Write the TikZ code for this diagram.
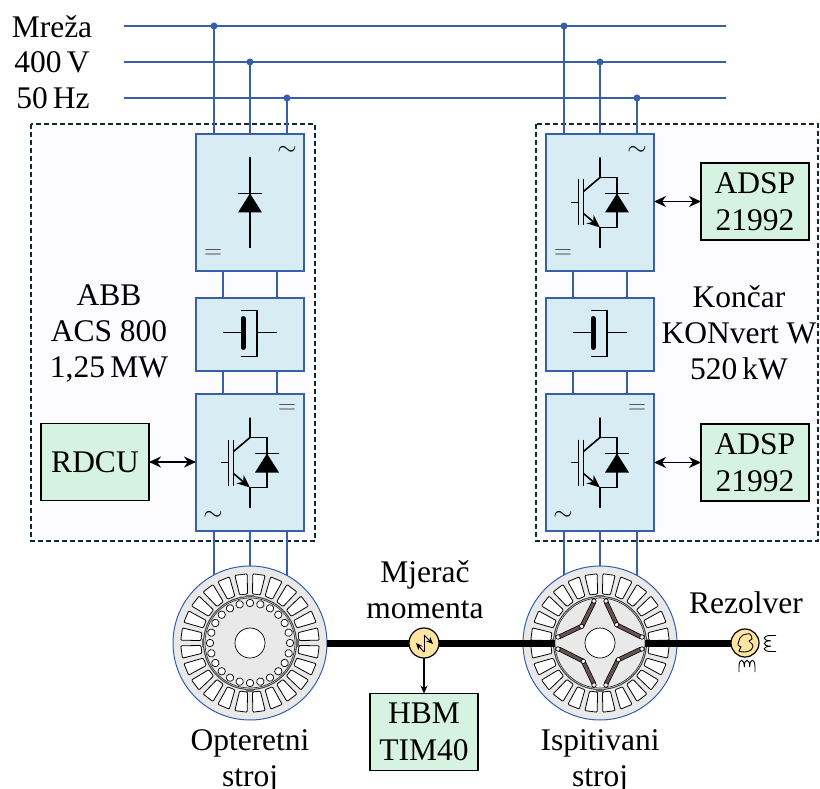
\documentclass[tikz,border=0pt]{standalone}
\usepackage{fontspec}
\setmainfont{Liberation Serif}
\usetikzlibrary{arrows.meta, calc}
\definecolor{mywire}{RGB}{55,95,170}
\definecolor{myblock}{RGB}{215,236,243}
\definecolor{mygreen}{RGB}{214,242,225}
\definecolor{mysteel}{RGB}{233,233,233}
\definecolor{myyellow}{RGB}{255,230,160}
\definecolor{mymagnet}{RGB}{105,80,80}
\definecolor{mydash}{RGB}{20,40,50}
\tikzset{
  lab/.style={font=\fontsize{31.5}{36}\selectfont, align=center, inner sep=0pt},
  acsym/.style={font=\fontsize{27}{27}\selectfont, inner sep=0pt, text=black},
  dcsym/.style={font=\fontsize{30}{30}\selectfont, inner sep=0pt, text=black!75},
  wire/.style={line width=1.7pt, color=mywire},
  busdot/.style={circle, fill=mywire, minimum size=7, inner sep=0pt, outer sep=0pt},
  block/.style={rectangle, draw=mywire, fill=myblock, line width=1.5pt,
    minimum width=108, inner sep=0pt, outer sep=0pt},
  ctrl/.style={rectangle, draw=black, fill=mygreen, line width=1.2pt,
    minimum width=108, minimum height=77, inner sep=0pt, outer sep=0pt,
    font=\fontsize{31.5}{36.5}\selectfont, align=center},
  dashbox/.style={draw=mydash, line width=1.2pt, dash pattern=on 5pt off 3pt, fill=blue!1},
  dblarrow/.style={{Stealth[length=12pt,width=11pt]}-{Stealth[length=12pt,width=11pt]}, line width=1.7pt},
  sym/.style={line width=1.6pt, color=black},
  shaft/.style={line width=7pt, color=black},
  steel/.style={circle, draw=mywire, fill=mysteel, line width=1pt, minimum size=154, inner sep=0pt, outer sep=0pt},
  rotor/.style={circle, draw=black!80, fill=mysteel, line width=0.7pt, minimum size=90, inner sep=0pt, outer sep=0pt},
  hub/.style={circle, draw=black, fill=white, line width=0.7pt, minimum size=30, inner sep=0pt, outer sep=0pt},
  yelnode/.style={circle, draw=black, fill=myyellow, line width=1.2pt, inner sep=0pt, outer sep=0pt},
  diodesym/.pic={
    \draw[sym] (17,-9) ++(-12,0) -- ++(24,0);
    \fill (17,-9) -- (29,10) -- (5,10) -- cycle;
  },
  igbt/.pic={
    \draw[sym] (-29,0) -- (-21.5,0) (-21.5,-23) -- (-21.5,23) (-16.5,-23) -- (-16.5,23);
    \draw[sym] (0,-45) -- (0,-25) -- (-16.5,-11);
    \draw[sym, -{Stealth[length=13pt,width=11pt]}] (-16.5,11) -- (0,25);
    \draw[sym] (0,45) -- (0,25) -- (17,25) -- (17,-25) -- (0,-25);
    \pic {diodesym};
  },
  coil/.pic={
    \draw[line width=0.9pt] (-8,5) -- (-8,0) .. controls (-8,-9) and (-2.7,-9) .. (-2.7,0)
      .. controls (-2.7,-9) and (2.7,-9) .. (2.7,0)
      .. controls (2.7,-9) and (8,-9) .. (8,0) -- (8,5);
  },
  stator/.pic={
    \draw[line width=1pt, color=black!75] (0,0) circle (46.5);
    \foreach \a in {7.5,22.5,...,352.5}{
      \draw[line width=0.8pt, fill=white, rounded corners=1pt, rotate=\a]
        (49,-4) -- (69,-6.2) -- (69,6.2) -- (49,4) -- cycle;
    }
    \foreach \a in {0,90,180,270}{
      \fill[black!60, rotate=\a] (46,-4) rectangle (48.5,4);
    }
  }
}

\begin{document}
\begin{tikzpicture}[x=1pt, y=-1pt]
    \useasboundingbox (0,0) rectangle (820,789);

    % Drive enclosures
    \draw[dashbox] (31,124) rectangle (315,541);
    \draw[dashbox] (536,124) rectangle (818,541);

    % Supply
    \coordinate (busa) at (124,26);
    \coordinate (busb) at (124,62);
    \coordinate (busc) at (124,98);
    \coordinate (busaend) at (726,26);
    \coordinate (busbend) at (726,62);
    \coordinate (buscend) at (726,98);
    \draw[wire] (busa) -- (busaend);
    \draw[wire] (busb) -- (busbend);
    \draw[wire] (busc) -- (buscend);
    \node[lab] (mreza) at (52,27) {Mreža};
    \node[lab] (napon) at (52,62) {400\,V};
    \node[lab] (frekv) at (53,98) {50\,Hz};
    \node[busdot] (la) at (214,26) {};
    \node[busdot] (lb) at (250,62) {};
    \node[busdot] (lc) at (287,98) {};
    \node[busdot] (ra) at (564,26) {};
    \node[busdot] (rb) at (600,62) {};
    \node[busdot] (rc) at (637,98) {};

    % Left drive
    \node[block, minimum height=137] (lrect) at (250,202.5) {};
    \node[block, minimum height=73] (llink) at (250,334.5) {};
    \node[block, minimum height=137] (linv) at (250,462.5) {};
    % Right drive
    \node[block, minimum height=137] (rrect) at (600,202.5) {};
    \node[block, minimum height=73] (rlink) at (600,334.5) {};
    \node[block, minimum height=137] (rinv) at (600,462.5) {};

    % Bus to rectifier
    \draw[wire] (la) -- (la |- lrect.north);
    \draw[wire] (lb) -- (lb |- lrect.north);
    \draw[wire] (lc) -- (lc |- lrect.north);
    \draw[wire] (ra) -- (ra |- rrect.north);
    \draw[wire] (rb) -- (rb |- rrect.north);
    \draw[wire] (rc) -- (rc |- rrect.north);

    % DC link
    \draw[wire] ([xshift=-27]lrect.south) -- ([xshift=-27]llink.north);
    \draw[wire] ([xshift=27]lrect.south) -- ([xshift=27]llink.north);
    \draw[wire] ([xshift=-27]llink.south) -- ([xshift=-27]linv.north);
    \draw[wire] ([xshift=27]llink.south) -- ([xshift=27]linv.north);
    \draw[wire] ([xshift=-27]rrect.south) -- ([xshift=-27]rlink.north);
    \draw[wire] ([xshift=27]rrect.south) -- ([xshift=27]rlink.north);
    \draw[wire] ([xshift=-27]rlink.south) -- ([xshift=-27]rinv.north);
    \draw[wire] ([xshift=27]rlink.south) -- ([xshift=27]rinv.north);

    % Inverter to machine
    \coordinate (opos) at (250,643);
    \coordinate (ipos) at (600,643);
    \draw[wire] (la |- linv.south) -- (la |- opos);
    \draw[wire] (lb |- linv.south) -- (lb |- opos);
    \draw[wire] (lc |- linv.south) -- (lc |- opos);
    \draw[wire] (ra |- rinv.south) -- (ra |- ipos);
    \draw[wire] (rb |- rinv.south) -- (rb |- ipos);
    \draw[wire] (rc |- rinv.south) -- (rc |- ipos);

    % Block symbols
    \draw[sym] ($(lrect.center)+(0,-45)$) -- ($(lrect.center)+(0,45)$);
    \pic at ($(lrect.center)+(-17,0)$) {diodesym};
    \pic at (rrect.center) {igbt};
    \pic at (linv.center) {igbt};
    \pic at (rinv.center) {igbt};
    \foreach \lnk in {llink,rlink}{
      \draw[sym] ($(\lnk.center)+(-27,-2)$) -- ($(\lnk.center)+(-7,-2)$);
      \draw[line width=5pt, line cap=round] ($(\lnk.center)+(-7,-16)$) -- ($(\lnk.center)+(-7,13)$);
      \draw[sym] ($(\lnk.center)+(-9,-24)$) -- ($(\lnk.center)+(7,-24)$) -- ($(\lnk.center)+(7,22)$) -- ($(\lnk.center)+(-9,22)$);
      \draw[sym] ($(\lnk.center)+(7,-2)$) -- ($(\lnk.center)+(27,-2)$);
    }

    % AC and DC marks
    \node[acsym] (lacup) at ($(lrect.center)+(37,-52)$) {$\sim$};
    \node[dcsym] (ldcup) at ($(lrect.center)+(-37,52)$) {$=$};
    \node[acsym] (racup) at ($(rrect.center)+(37,-52)$) {$\sim$};
    \node[dcsym] (rdcup) at ($(rrect.center)+(-37,52)$) {$=$};
    \node[dcsym] (ldcdn) at ($(linv.center)+(37,-53)$) {$=$};
    \node[acsym] (lacdn) at ($(linv.center)+(-37,53)$) {$\sim$};
    \node[dcsym] (rdcdn) at ($(rinv.center)+(37,-53)$) {$=$};
    \node[acsym] (racdn) at ($(rinv.center)+(-37,53)$) {$\sim$};

    % Controllers
    \node[ctrl] (rdcu) at (95,462) {RDCU};
    \node[ctrl] (adspa) at (755,201.5) {ADSP\\21992};
    \node[ctrl] (adspb) at (755,462.5) {ADSP\\21992};
    \node[ctrl] (hbm) at (424,732) {HBM\\TIM40};
    \draw[dblarrow] (rdcu.east) -- (rdcu.east -| linv.west);
    \draw[dblarrow] (adspa.west) -- (adspa.west -| rrect.east);
    \draw[dblarrow] (adspb.west) -- (adspb.west -| rinv.east);

    % Drive labels
    \node[lab] (abb) at (109,334) {ABB\\ACS 800\\1,25\,MW};
    \node[lab] (koncar) at (739,333) {Končar\\KONvert W\\520\,kW};

    % Load machine
    \node[steel] (opt) at (opos) {};
    \pic at (opt.center) {stator};
    \node[rotor] (optrot) at (opt.center) {};
    \foreach \a in {0,15,...,345}{
      \draw[line width=0.7pt, fill=white, rotate around={\a:(opt.center)}] ($(opt.center)+(40,0)$) circle (3.7);
    }
    \node[hub] (opthub) at (opt.center) {};

    % Machine under test
    \node[steel] (isp) at (ipos) {};
    \pic at (isp.center) {stator};

    % Shaft
    \node[yelnode, minimum size=30] (sens) at (424,643) {};
    \node[yelnode, minimum size=28] (rez) at (745,643) {};
    \draw[shaft] (opt.east) -- (sens.west);
    \draw[shaft] (sens.east) -- (rez.west);

    \node[rotor] (isprot) at (isp.center) {};
    \foreach \a in {0,90,180,270}{
      \begin{scope}[shift={(isp.center)}, rotate=\a]
        \draw[line width=4.6pt, color=black] (6,41) -- (18,17) (18,17) -- (41,6);
        \draw[line width=3.1pt, color=mymagnet] (6,41) -- (18,17) (18,17) -- (41,6);
        \draw[line width=0.7pt, fill=white] (6,42) circle (2.2) (18.3,16.7) circle (2.2) (42,6) circle (2.2);
      \end{scope}
    }
    \node[hub] (isphub) at (isp.center) {};

    % Torque meter
    \draw[-{Stealth[length=8pt,width=7pt]}, line width=1.3pt] (sens.south) -- (hbm.north);
    \draw[line width=1pt, -{Stealth[length=7pt,width=6pt]}] ($(sens.center)+(0,-8)$) -- ($(sens.center)+(9,1)$);
    \draw[line width=1pt, -{Stealth[length=7pt,width=6pt]}] ($(sens.center)+(0,9)$) -- ($(sens.center)+(-8,0)$);
    \draw[line width=1pt] ($(sens.center)+(0,-8)$) -- ($(sens.center)+(0,9)$);

    % Resolver
    \begin{scope}[shift={(rez.center)}]
      \draw[line width=0.9pt] plot[smooth cycle] coordinates {(-7,2) (-5,-5) (-2,-8) (5,-9) (7,-4) (4,-2) (8,2) (6,7) (0,9) (-6,8) (-4,4)};
    \end{scope}
    \pic at (747,667) {coil};
    \pic[rotate=90] at (771,643.5) {coil};

    % Machine labels
    \node[lab] (mjerac) at (425,589.5) {Mjerač\\momenta};
    \node[lab] (rezlab) at (746,603) {Rezolver};
    \node[lab, anchor=north] (optlab) at (250,729.5) {Opteretni\\stroj};
    \node[lab, anchor=north] (isplab) at (600,729.5) {Ispitivani\\stroj};
\end{tikzpicture}
\end{document}
